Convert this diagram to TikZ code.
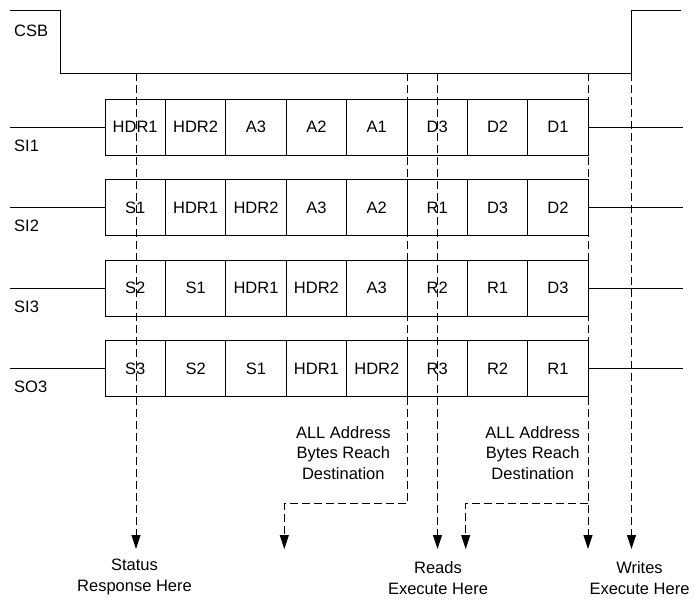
\documentclass[tikz,border=0pt]{standalone}
\usepackage{fontspec}
\setmainfont{Liberation Sans}
\usepackage{tikz}
\usetikzlibrary{arrows.meta}

\tikzset{
  wire/.style={line width=0.8pt},
  cell/.style={draw, line width=0.8pt, minimum width=60.4pt, minimum height=56pt,
               inner sep=0pt, font=\fontsize{16.5}{20.5}\selectfont},
  label/.style={font=\fontsize{16.5}{20.5}\selectfont, align=center, inner sep=0pt},
  marker/.style={line width=0.8pt, dash pattern=on 8pt off 4pt},
  markerarrow/.style={marker, -{Triangle[width=9pt,length=14pt]}}
}

\begin{document}
\begin{tikzpicture}[x=1pt, y=-1pt]
  \useasboundingbox (0,0) rectangle (694,598);

  % Chip select waveform
  \draw[wire] (10,10) -- (60,10) -- (60,73) -- (631.5,73) -- (631.5,10) -- (681,10);
  \node[label, anchor=base west] (csb) at (14,36) {CSB};

  % Byte slots on each line (8 slots, 60.4 wide, starting at x=105)
  \foreach \t [count=\c] in {HDR1,HDR2,A3,A2,A1,D3,D2,D1}
    \node[cell] (si1c\c) at (74.8+60.4*\c, 127) {\t};
  \foreach \t [count=\c] in {S1,HDR1,HDR2,A3,A2,R1,D3,D2}
    \node[cell] (si2c\c) at (74.8+60.4*\c, 207.5) {\t};
  \foreach \t [count=\c] in {S2,S1,HDR1,HDR2,A3,R2,R1,D3}
    \node[cell] (si3c\c) at (74.8+60.4*\c, 288) {\t};
  \foreach \t [count=\c] in {S3,S2,S1,HDR1,HDR2,R3,R2,R1}
    \node[cell] (so3c\c) at (74.8+60.4*\c, 368.5) {\t};

  % Idle lines left and right of the slots, with line names
  \foreach \n/\y/\ly in {si1/127/SI1, si2/207.5/SI2, si3/288/SI3, so3/368.5/SO3} {
    \draw[wire] (10,\y) -- (\n c1.west);
    \draw[wire] (\n c8.east) -- (683,\y);
    \node[label, anchor=base west] (\n lbl) at (14,\y+24) {\ly};
  }

  % Marker points on the CSB low level and arrow ends
  \coordinate (mk1) at (136,73);
  \coordinate (mk2) at (407.5,73);
  \coordinate (mk3) at (437.5,73);
  \coordinate (mk4) at (588,73);
  \coordinate (mk5) at (631.5,73);
  \coordinate (bend2) at (407.5,503);
  \coordinate (bend4) at (588,503);
  \coordinate (end1) at (136,549);
  \coordinate (end2) at (284.3,549);
  \coordinate (end3) at (437.5,549);
  \coordinate (end4a) at (465.7,549);
  \coordinate (end4b) at (588,549);
  \coordinate (end5) at (631.5,549);

  % Dashed markers
  \draw[markerarrow] (mk1) -- (end1);
  \draw[markerarrow] (mk2) -- (bend2) -| (end2);
  \draw[markerarrow] (mk3) -- (end3);
  \draw[markerarrow] (mk4) -- (end4b);
  \draw[markerarrow] (bend4) -| (end4a);
  \draw[markerarrow] (mk5) -- (end5);

  % Notes (base = baseline of last line)
  \node[label, anchor=base] (addr1) at (343.3,479) {ALL Address\\Bytes Reach\\Destination};
  \node[label, anchor=base] (addr2) at (532.7,479) {ALL Address\\Bytes Reach\\Destination};
  \node[label, anchor=base] (status) at (134.5,591) {Status\\Response Here};
  \node[label, anchor=base] (reads) at (438,594) {Reads\\Execute Here};
  \node[label, anchor=base] (writes) at (639.5,594) {Writes\\Execute Here};
\end{tikzpicture}
\end{document}
